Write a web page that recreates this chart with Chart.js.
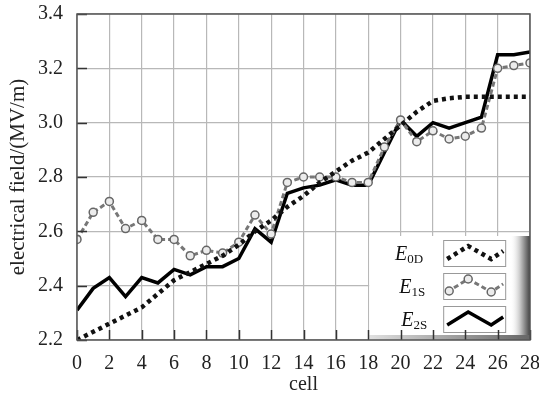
<!DOCTYPE html>
<html>
<head>
<meta charset="utf-8">
<script src="https://cdn.jsdelivr.net/npm/chart.js@4.4.0/dist/chart.umd.min.js"></script>
<style>
  html, body { margin: 0; padding: 0; background: #fff; }
  #wrap { width: 539px; height: 400px; }
</style>
</head>
<body>
<div id="wrap"><canvas id="fieldChart"></canvas></div>
<script>
// values, one per cell
const cells = [0, 1, 2, 3, 4, 5, 6, 7, 8, 9, 10, 11, 12, 13, 14, 15, 16, 17, 18, 19, 20, 21, 22, 23, 24, 25, 26, 27, 28];
const e0d = [2.20, 2.23, 2.26, 2.29, 2.32, 2.37, 2.42, 2.45, 2.48, 2.51, 2.55, 2.60, 2.64, 2.69, 2.73, 2.78, 2.82, 2.86, 2.89, 2.94, 2.99, 3.04, 3.08, 3.09, 3.095, 3.095, 3.095, 3.095, 3.095];
const e1s = [2.57, 2.67, 2.71, 2.61, 2.64, 2.57, 2.57, 2.51, 2.53, 2.52, 2.56, 2.66, 2.59, 2.78, 2.80, 2.80, 2.80, 2.78, 2.78, 2.91, 3.01, 2.93, 2.97, 2.94, 2.95, 2.98, 3.20, 3.21, 3.22];
const e2s = [2.31, 2.39, 2.43, 2.36, 2.43, 2.41, 2.46, 2.44, 2.47, 2.47, 2.50, 2.61, 2.56, 2.74, 2.76, 2.77, 2.79, 2.77, 2.77, 2.89, 3.01, 2.95, 3.00, 2.98, 3.00, 3.02, 3.25, 3.25, 3.26];

const seriesMain = ['E', 'E', 'E'];
const seriesSub = ['0D', '1S', '2S'];

const serif = '"Liberation Serif", "DejaVu Serif", serif';

// inner tick marks + frame, drawn on top
const innerTicks = {
    id: 'innerTicks',
    afterDraw(chart) {
        const {ctx, chartArea: a, scales} = chart;
        ctx.save();
        ctx.strokeStyle = '#333';
        ctx.lineWidth = 1.5;
        scales.x.ticks.forEach(t => {
            const px = Math.round(scales.x.getPixelForValue(t.value)) + 0.5;
            ctx.beginPath();
            ctx.moveTo(px, a.bottom);
            ctx.lineTo(px, a.bottom - 10);
            ctx.stroke();
        });
        scales.y.ticks.forEach(t => {
            const py = Math.round(scales.y.getPixelForValue(t.value)) + 0.5;
            ctx.beginPath();
            ctx.moveTo(a.left, py);
            ctx.lineTo(a.left + 10, py);
            ctx.stroke();
        });
        ctx.strokeStyle = '#555';
        ctx.lineWidth = 1.5;
        ctx.strokeRect(a.left, a.top, a.right - a.left, a.bottom - a.top);
        ctx.restore();
    }
};

// legend panel in the lower right corner
const panelLegend = {
    id: 'panelLegend',
    afterDatasetsDraw(chart) {
        const {ctx, chartArea: a} = chart;
        const x0 = a.left + (a.right - a.left) * 0.645, y0 = a.bottom - 104;
        const x1 = a.right, y1 = a.bottom;
        ctx.save();
        ctx.fillStyle = '#fff';
        ctx.fillRect(x0, y0, x1 - x0, y1 - y0);
        // shaded right edge
        const g = ctx.createLinearGradient(x1 - 20, 0, x1, 0);
        g.addColorStop(0, 'rgba(255,255,255,0)');
        g.addColorStop(0.5, '#c8c8c8');
        g.addColorStop(1, '#444');
        ctx.fillStyle = g;
        ctx.fillRect(x1 - 20, y0, 20, y1 - y0);
        // shaded bottom edge
        const gb = ctx.createLinearGradient(x0, 0, x1, 0);
        gb.addColorStop(0, '#e0e0e0');
        gb.addColorStop(1, '#666');
        ctx.fillStyle = gb;
        ctx.fillRect(x0, y1 - 5, x1 - x0, 5);

        const boxX = x0 + 74, boxW = 62, boxH = 26;
        const rows = [y0 + 4, y0 + 37, y0 + 70];
        chart.data.datasets.forEach((ds, i) => {
            const by = rows[i];
            // label text E + subscript
            ctx.fillStyle = '#111';
            ctx.textBaseline = 'alphabetic';
            ctx.font = '13px ' + serif;
            const subW = ctx.measureText(seriesSub[i]).width;
            const right = boxX - 20 + i * 2;
            ctx.fillText(seriesSub[i], right - subW, by + 23);
            ctx.font = 'italic 20px ' + serif;
            const mw = ctx.measureText(seriesMain[i]).width;
            ctx.fillText(seriesMain[i], right - subW - mw, by + 20);
            // sample box
            ctx.fillStyle = '#fff';
            ctx.fillRect(boxX, by, boxW, boxH);
            ctx.strokeStyle = '#999';
            ctx.lineWidth = 1;
            ctx.strokeRect(boxX + 0.5, by + 0.5, boxW, boxH);
            const pts = [[boxX + 4, by + 19], [boxX + 25, by + 6], [boxX + 48, by + 19], [boxX + 60, by + 11]];
            ctx.save();
            ctx.beginPath();
            ctx.rect(boxX + 1, by + 1, boxW - 1, boxH - 1);
            ctx.clip();
            ctx.strokeStyle = ds.borderColor;
            ctx.lineWidth = ds.borderWidth;
            ctx.setLineDash(ds.borderDash || []);
            ctx.beginPath();
            pts.forEach((p, k) => k ? ctx.lineTo(p[0], p[1]) : ctx.moveTo(p[0], p[1]));
            ctx.stroke();
            ctx.setLineDash([]);
            if (ds.pointRadius > 0) {
                [[boxX + 6, by + 18], [boxX + 25, by + 6], [boxX + 48, by + 19]].forEach(p => {
                    ctx.beginPath();
                    ctx.arc(p[0], p[1], ds.pointRadius, 0, Math.PI * 2);
                    ctx.fillStyle = ds.pointBackgroundColor;
                    ctx.fill();
                    ctx.lineWidth = ds.pointBorderWidth;
                    ctx.strokeStyle = ds.pointBorderColor;
                    ctx.stroke();
                });
            }
            ctx.restore();
        });
        ctx.restore();
    }
};

const chartCtx = document.getElementById('fieldChart').getContext('2d');

new Chart(chartCtx, {
    type: 'line',
    data: {
        labels: cells,
        datasets: [{
            label: 'E0D',
            data: e0d,
            borderColor: '#111',
            borderWidth: 4.5,
            borderDash: [4, 4],
            pointRadius: 0,
            tension: 0
        }, {
            label: 'E1S',
            data: e1s,
            borderColor: '#777',
            borderWidth: 3,
            borderDash: [5, 3],
            pointRadius: 4,
            pointBorderWidth: 1.5,
            pointBorderColor: '#666',
            pointBackgroundColor: '#ececec',
            tension: 0
        }, {
            label: 'E2S',
            data: e2s,
            borderColor: '#000',
            borderWidth: 3.5,
            pointRadius: 0,
            tension: 0
        }]
    },
    options: {
        responsive: true,
        maintainAspectRatio: false,
        animation: false,
        devicePixelRatio: 1,
        layout: { padding: { top: 14, right: 9, left: 0, bottom: 0 } },
        plugins: {
            legend: { display: false },
            tooltip: { enabled: false }
        },
        scales: {
            x: {
                type: 'linear',
                min: 0,
                max: 28,
                afterFit: s => { s.height = 60; s.paddingLeft = 0; s.paddingRight = 0; },
                ticks: { stepSize: 2, color: '#222', padding: 12, font: { family: serif, size: 20 } },
                grid: { color: '#b8b8b8', lineWidth: 1.2, drawTicks: false },
                border: { display: false },
                title: { display: true, text: 'cell', color: '#222', font: { family: serif, size: 20 }, padding: { top: 0, bottom: 3 } }
            },
            y: {
                min: 2.2,
                max: 3.4,
                afterFit: s => { s.width = 77; s.paddingTop = 0; s.paddingBottom = 0; },
                ticks: { stepSize: 0.2, color: '#222', padding: 14, font: { family: serif, size: 20 }, callback: v => v.toFixed(1) },
                grid: { color: '#b8b8b8', lineWidth: 1.2, drawTicks: false },
                border: { display: false },
                title: { display: true, text: 'electrical field/(MV/m)', color: '#222', font: { family: serif, size: 21 }, padding: { top: 6, bottom: 0 } }
            }
        }
    },
    plugins: [panelLegend, innerTicks]
});
</script>
</body>
</html>
